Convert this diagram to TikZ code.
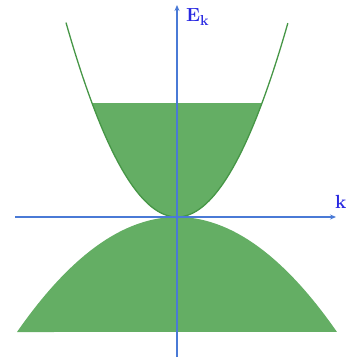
\documentclass[tikz,border=0pt]{standalone}
\usetikzlibrary{arrows.meta}
\definecolor{bandfill}{RGB}{100,174,100}
\definecolor{bandline}{RGB}{70,150,70}
\definecolor{axisblue}{RGB}{74,122,214}
\definecolor{labelblue}{RGB}{40,40,225}
\tikzset{
  axisline/.style={draw=axisblue, line width=1.4pt, -{Stealth[length=6pt,width=5pt]}},
  axislabel/.style={text=labelblue, font=\fontsize{19}{19}\selectfont\bfseries, inner sep=0pt},
  band/.style={fill=bandfill, draw=none},
  bandedge/.style={draw=bandline, line width=1.3pt}
}
\begin{document}
\begin{tikzpicture}[x=1pt,y=-1pt]
\useasboundingbox (0,0) rectangle (360,361);
% lower band (filled inverted parabola)
\fill[band] plot[domain=-1:1, samples=80] ({177+160*\x},{217+115*\x*\x}) -- cycle;
% upper band filled up to Fermi level
\fill[band] plot[domain=-1:1, samples=80] ({177+85*\x},{217-114*\x*\x}) -- cycle;
% upper parabola outline
\draw[bandedge] plot[domain=-1:1, samples=100] ({177+111*\x},{217-194.4*\x*\x});
% axes
\coordinate (vbot) at (177,357);
\coordinate (vtop) at (177,5);
\coordinate (hleft) at (15,217);
\coordinate (hright) at (336,217);
\draw[axisline] (vbot) -- (vtop);
\draw[axisline] (hleft) -- (hright);
\node[axislabel, anchor=north west] (ek) at (186,8) {E$_{\mathbf{k}}$};
\node[axislabel, anchor=south west] (k) at (335,209) {k};
\end{tikzpicture}
\end{document}
